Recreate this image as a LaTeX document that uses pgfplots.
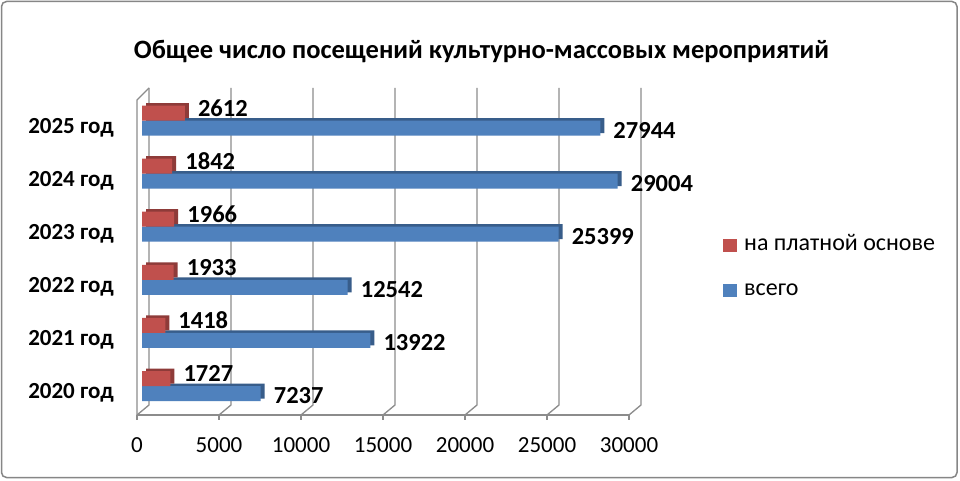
\documentclass[border=0pt]{standalone}
\usepackage{pgfplots}
\pgfplotsset{compat=1.18}
\usepackage{pgfplotstable}
\usepackage{fontspec}
\setmainfont{Carlito}
\definecolor{cred}{HTML}{C0504D}
\definecolor{cblue}{HTML}{4F81BD}
\definecolor{dred}{HTML}{8E3B39}
\definecolor{dblue}{HTML}{385D8A}
\definecolor{gridc}{HTML}{8C8C8C}
\definecolor{framec}{HTML}{868686}

\pgfplotstableread{
y total paid
0 7237 1727
1 13922 1418
2 12542 1933
3 25399 1966
4 29004 1842
5 27944 2612
}\datatable

\begin{document}
\begin{tikzpicture}[x=1pt,y=1pt]
\useasboundingbox (0,0) rectangle (960,480);
\fill[white] (0,0) rectangle (960,480);
\draw[framec, line width=1.5pt, rounded corners=5pt] (1.5,2.5) rectangle (957,478.5);

\node[anchor=base, font=\fontsize{26.5}{30}\selectfont\bfseries, inner sep=0pt] at (481.5,421)
  {Общее число посещений культурно-массовых мероприятий};

% 3D frame: floor, left wall, back grid lines
\foreach \i in {0,...,6} {
  \pgfmathsetmacro\fx{137+82*\i}
  \pgfmathsetmacro\bx{149+82*\i}
  \draw[gridc, line width=1.3pt] (\fx,65) -- (\bx,75) -- (\bx,392);
  \draw[gridc, line width=1.3pt] (\fx,65) -- (\fx,60);
}
\draw[gridc, line width=1.3pt] (137,65) -- (629,65);
\draw[gridc, line width=1.3pt] (137,65) -- (137,380) -- (149,392);

\begin{axis}[
  at={(142pt,70pt)}, anchor=south west, scale only axis,
  width=492pt, height=317pt,
  xmin=0, xmax=30000, ymin=-0.452, ymax=5.518,
  axis line style={draw=none}, major tick length=0pt,
  scaled x ticks=false,
  xtick={0,5000,...,30000}, ytick={0,...,5},
  yticklabels={2020 год,2021 год,2022 год,2023 год,2024 год,2025 год},
  xticklabel style={anchor=base, yshift=-42pt, xshift=-5pt, inner sep=0pt,
    font=\fontsize{23}{26}\selectfont},
  yticklabel style={anchor=base east, xshift=-28pt, yshift=-12.5pt, inner sep=0pt,
    font=\fontsize{23}{26}\selectfont\bfseries},
  /pgf/number format/1000 sep={},
  /pgf/number format/assume math mode=true,
  xbar, bar width=15pt,
  clip=false,
  legend style={draw=none, fill=none, inner sep=0pt,
    at={(1.1809,0.4495)}, anchor=west,
    font=\fontsize{24}{27}\selectfont,
    row sep=24pt, column sep=7pt,
    nodes={inner sep=0pt, text height=16pt, text depth=5pt}},
  legend cell align=left,
  legend image code/.code={\fill[#1,draw=none] (0pt,-6.5pt) rectangle (14pt,6.5pt);},
  reverse legend,
]
\addplot[fill=dblue, draw=none, bar shift=-7.5pt, xshift=4pt, yshift=2.5pt, forget plot]
  table[x=total, y=y]{\datatable};
\addplot[fill=dred, draw=none, bar shift=7.5pt, xshift=4pt, yshift=2.5pt, forget plot]
  table[x=paid, y=y]{\datatable};
\addplot[fill=cblue, draw=none, bar shift=-7.5pt,
  point meta=x, nodes near coords,
  every node near coord/.append style={anchor=west, inner sep=0pt, xshift=13pt, yshift=-2.5pt,
    font=\fontsize{24.5}{28}\selectfont\bfseries, text=black}]
  table[x=total, y=y]{\datatable};
\addlegendentry{всего}
\addplot[fill=cred, draw=none, bar shift=7.5pt,
  point meta=x, nodes near coords,
  every node near coord/.append style={anchor=west, inner sep=0pt, xshift=13pt, yshift=5pt,
    font=\fontsize{24.5}{28}\selectfont\bfseries, text=black}]
  table[x=paid, y=y]{\datatable};
\addlegendentry{на платной основе}
\end{axis}
\end{tikzpicture}
\end{document}
